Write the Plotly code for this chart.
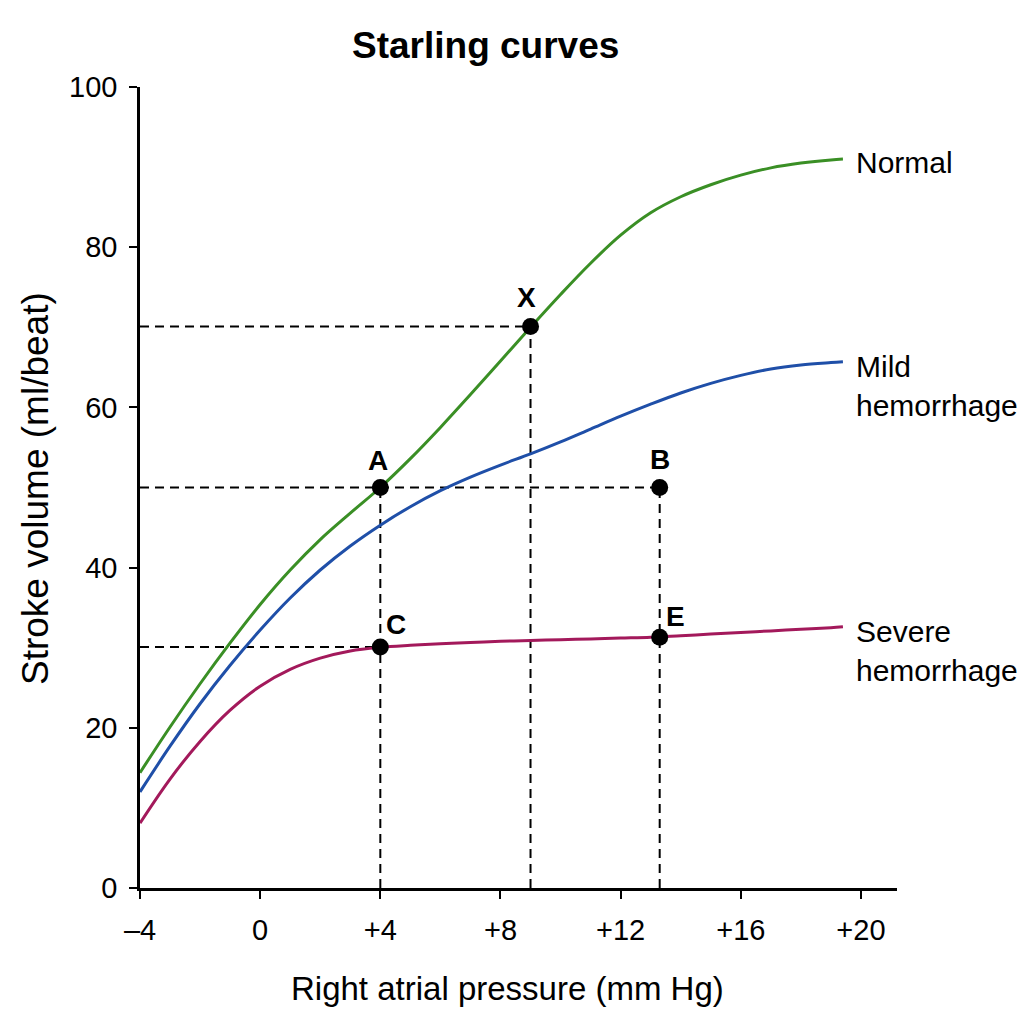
import plotly.graph_objects as go

# ---- data ----
rap = [-4, -3, -2, -1, 0, 1, 2, 3, 4, 5, 6, 7, 8, 9, 10, 11, 12, 13, 14, 15, 16, 17, 18, 19, 19.4]
normal = [14.4, 20.1, 25.5, 30.6, 35.4, 39.7, 43.5, 46.8, 50.0, 53.6, 57.5, 61.6, 65.8, 70.0, 74.1,
          78.0, 81.5, 84.3, 86.3, 87.8, 89.0, 89.9, 90.5, 90.9, 91.0]
mild = [12.0, 17.7, 23.0, 27.8, 32.2, 36.2, 39.7, 42.7, 45.3, 47.6, 49.6, 51.3, 52.8, 54.2, 55.7,
        57.3, 58.9, 60.4, 61.8, 63.0, 64.0, 64.8, 65.3, 65.6, 65.7]
severe = [8.1, 13.6, 18.3, 22.2, 25.2, 27.3, 28.7, 29.6, 30.05, 30.3, 30.5, 30.65, 30.8, 30.9, 31.0,
          31.1, 31.2, 31.3, 31.5, 31.7, 31.9, 32.1, 32.3, 32.5, 32.6]
series_names = ["Normal", "Mild<br>hemorrhage", "Severe<br>hemorrhage"]
series_colors = ["#3a8f25", "#1f4fa8", "#a3195b"]

point_labels = ["A", "X", "B", "C", "E"]
point_x = [4.0, 9.0, 13.3, 4.0, 13.3]
point_y = [50.0, 70.1, 50.0, 30.1, 31.3]
hline_points = ["X", "B", "C"]   # dashed guide to y-axis
vline_points = ["X", "A", "B"]   # dashed guide to x-axis

x_ticks = [-4, 0, 4, 8, 12, 16, 20]
x_ticklabels = ["\u20134", "0", "+4", "+8", "+12", "+16", "+20"]
y_ticks = [0, 20, 40, 60, 80, 100]

FONT = "Liberation Sans, Arial, sans-serif"
L, R, T, B = 140, 127, 87, 136
PW, PH = 1024 - L - R, 1024 - T - B

def px_x(p):
    return (p - L) / PW

def px_y(p):
    return (1024 - B - p) / PH

fig = go.Figure()

# dashed guides
pidx = {lab: i for i, lab in enumerate(point_labels)}
for lab in hline_points:
    i = pidx[lab]
    fig.add_trace(go.Scatter(x=[x_ticks[0], point_x[i]], y=[point_y[i], point_y[i]], mode="lines",
                             line=dict(color="black", width=2, dash="9px,6px"),
                             hoverinfo="skip", showlegend=False))
for lab in vline_points:
    i = pidx[lab]
    fig.add_trace(go.Scatter(x=[point_x[i], point_x[i]], y=[0, point_y[i]], mode="lines",
                             line=dict(color="black", width=2, dash="9px,6px"),
                             hoverinfo="skip", showlegend=False))

# curves
for name, ys, col in zip(series_names, [normal, mild, severe], series_colors):
    fig.add_trace(go.Scatter(x=rap, y=ys, mode="lines", name=name,
                             line=dict(color=col, width=3, shape="spline", smoothing=1.0),
                             showlegend=False))
    two = "<br>" in name
    fig.add_annotation(x=rap[-1], y=ys[-1], xref="x", yref="y", text=name, showarrow=False,
                       xanchor="left", yanchor="top" if two else "middle",
                       xshift=11, yshift=14 if two else -3, align="left",
                       font=dict(family=FONT, size=30, color="black"))

# points
fig.add_trace(go.Scatter(x=point_x, y=point_y, mode="markers",
                         marker=dict(color="black", size=17), showlegend=False))

label_shift = {"A": (-2, 27), "X": (-4, 29), "B": (0, 28), "C": (16, 22), "E": (16, 21)}
for lab, px, py in zip(point_labels, point_x, point_y):
    dx, dy = label_shift[lab]
    fig.add_annotation(x=px, y=py, xref="x", yref="y", text="<b>%s</b>" % lab, showarrow=False,
                       xshift=dx, yshift=dy, font=dict(family=FONT, size=28, color="black"))

# titles
fig.add_annotation(x=px_x(485), y=px_y(45), xref="paper", yref="paper", text="<b>Starling curves</b>",
                   showarrow=False, xanchor="center", yanchor="middle",
                   font=dict(family=FONT, size=37, color="black"))
fig.add_annotation(x=px_x(507), y=px_y(988), xref="paper", yref="paper",
                   text="Right atrial pressure (mm Hg)", showarrow=False,
                   xanchor="center", yanchor="middle", font=dict(family=FONT, size=33, color="black"))
fig.add_annotation(x=px_x(35), y=px_y(489), xref="paper", yref="paper",
                   text="Stroke volume (ml/beat)", showarrow=False, textangle=-90,
                   xanchor="center", yanchor="middle", font=dict(family=FONT, size=37, color="black"))

fig.update_layout(
    width=1024, height=1024,
    margin=dict(l=L, r=R, t=T, b=B),
    paper_bgcolor="white", plot_bgcolor="white",
    font=dict(family=FONT, color="black"),
    xaxis=dict(range=[-4, 21.2], showline=True, linecolor="black", linewidth=2.5,
               tickmode="array", tickvals=x_ticks, ticktext=x_ticklabels,
               ticks="outside", ticklen=8, tickwidth=2, tickcolor="black",
               tickfont=dict(family=FONT, size=29), showgrid=False, zeroline=False,
               ticklabelstandoff=6),
    yaxis=dict(range=[0, 100], showline=True, linecolor="black", linewidth=2.5,
               tickmode="array", tickvals=y_ticks,
               ticks="outside", ticklen=8, tickwidth=2, tickcolor="black",
               tickfont=dict(family=FONT, size=29), showgrid=False, zeroline=False,
               ticklabelstandoff=6),
)

fig.write_html("out.html")
